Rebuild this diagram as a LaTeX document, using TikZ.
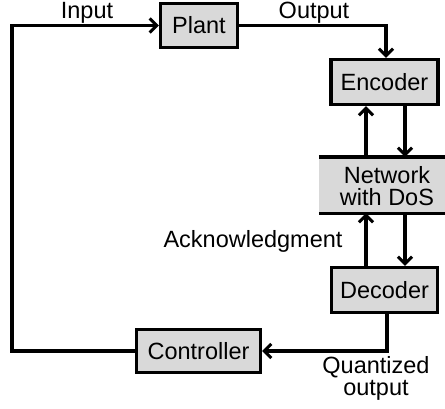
\documentclass[tikz,border=0pt]{standalone}
\usepackage{fontspec}
\setmainfont{Liberation Sans}
\usetikzlibrary{arrows.meta}
\definecolor{boxgray}{RGB}{217,217,217}
\begin{document}
\begin{tikzpicture}[x=1pt,y=-1pt,
  font=\fontsize{23.5}{21.5}\selectfont,
  blk/.style={draw, fill=boxgray, line width=3.4pt, rectangle, inner sep=0pt},
  conn/.style={line width=3.2pt},
  arr/.style={conn, -{Straight Barb[length=7pt,width=14pt,line width=3pt]}},
  lbl/.style={inner sep=0pt, anchor=base}]
\useasboundingbox (0,0) rectangle (445,408);
% blocks
\node[blk, minimum width=77pt, minimum height=44pt] (plant) at (199,25.5) {Plant};
\node[blk, minimum width=107pt, minimum height=45pt] (enc) at (384.5,82) {Encoder};
\node[blk, minimum width=106pt, minimum height=45pt] (dec) at (384.5,290) {Decoder};
\node[blk, minimum width=124pt, minimum height=43pt] (ctrl) at (198.5,351) {Controller};
\node[fill=boxgray, inner sep=0pt, minimum width=126pt, minimum height=56pt] (net) at (382,185) {};
\node[inner sep=0pt, align=center] (nettxt) at (387,186) {Network\\with DoS};
\draw[line width=3.4pt] (net.north west) -- (net.north east);
\draw[line width=3.4pt] (net.south west) -- (net.south east);
% helper coordinates
\coordinate (xL) at (366,0);
\coordinate (xR) at (405,0);
\coordinate (xO) at (386,0);
\coordinate (xQ) at (387,0);
\coordinate (lft) at (12,0);
% connectors
\draw[arr] (ctrl.west) -- (ctrl.west -| lft) -- (plant.west -| lft) -- (plant.west);
\draw[arr] (plant.east) -- (plant.east -| xO) -- (enc.north -| xO);
\draw[arr] (enc.south -| xR) -- (net.north -| xR);
\draw[arr] (net.north -| xL) -- (enc.south -| xL);
\draw[arr] (net.south -| xR) -- (dec.north -| xR);
\draw[arr] (dec.north -| xL) -- (net.south -| xL);
\draw[arr] (dec.south -| xQ) -- (ctrl.east -| xQ) -- (ctrl.east);
% labels
\node[lbl] (lin) at (87,18.5) {Input};
\node[lbl] (lout) at (314,18.5) {Output};
\node[lbl] (lack) at (253,247) {Acknowledgment};
\node[inner sep=0pt, align=center, anchor=base] (lq) at (376,395) {Quantized\\output};
\end{tikzpicture}
\end{document}
